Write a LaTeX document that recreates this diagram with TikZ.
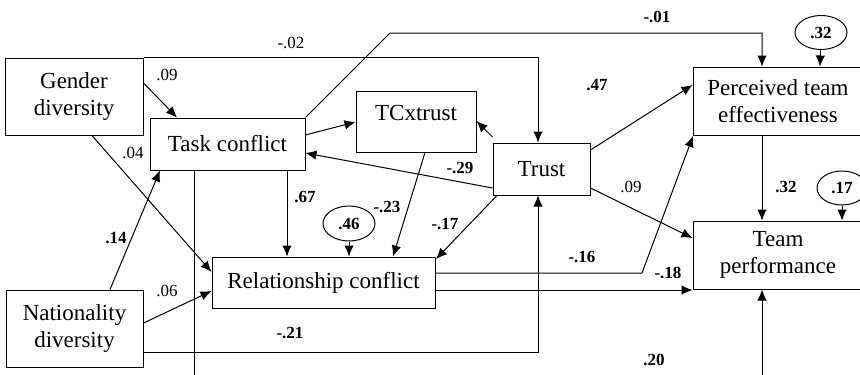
\documentclass[tikz,border=0pt]{standalone}
\usepackage{fontspec}
\setmainfont{Liberation Serif}
\usetikzlibrary{arrows.meta,shapes.geometric}
\tikzstyle{VarNode}=[rectangle, draw=black, line width=1pt, inner sep=0pt, align=center, font=\fontsize{23}{27}\selectfont]
\tikzstyle{ErrNode}=[ellipse, draw=black, line width=1pt, inner sep=0pt, font=\fontsize{17}{20}\selectfont\bfseries]
\tikzstyle{PathEdge}=[->, line width=1pt]
\tikzstyle{Coef}=[inner sep=0pt, font=\fontsize{17}{20}\selectfont]
\tikzstyle{BoldCoef}=[Coef, font=\fontsize{17}{20}\selectfont\bfseries]
\tikzset{>={Latex[length=11pt,width=9.5pt]}}

\begin{document}
\begin{tikzpicture}[x=1pt, y=-1pt]
\useasboundingbox (0,0) rectangle (860,375);
\clip (0,0) rectangle (860,375);

\node[VarNode, minimum width=138pt, minimum height=77pt](GD) at (74,96.5) {Gender\\diversity};
\node[VarNode, minimum width=155pt, minimum height=52pt](TC) at (227.5,144) {Task conflict};
\node[VarNode, minimum width=120pt, minimum height=61pt, text depth=17pt](TCx) at (416,121.5) {TCxtrust};
\node[VarNode, minimum width=97pt, minimum height=52pt](Trust) at (541.5,169) {Trust};
\node[VarNode, minimum width=223pt, minimum height=51pt](RC) at (323.5,282.5) {Relationship conflict};
\node[VarNode, minimum width=137pt, minimum height=77pt](Nat) at (74.5,328.5) {Nationality\\diversity};
\node[VarNode, minimum width=170pt, minimum height=68pt](PTE) at (778,101) {Perceived team\\effectiveness};
\node[VarNode, minimum width=170pt, minimum height=68pt](TP) at (778,255) {Team\\performance};

\node[ErrNode, minimum width=52pt, minimum height=34pt](E1) at (821,32.5) {.32};
\node[ErrNode, minimum width=50pt, minimum height=34pt](E2) at (842,188) {.17};
\node[ErrNode, minimum width=52pt, minimum height=35pt](E3) at (349,223.5) {.46};

% diversity paths
\draw[PathEdge](GD.east |- 0,83) -- (177,0 |- TC.north);
\draw[PathEdge](GD.south -| 92,0) -- (RC.west |- 0,272);
\draw[PathEdge](110,0 |- Nat.north) -- (160,0 |- TC.south);
\draw[PathEdge](Nat.east |- 0,323) -- (RC.west |- 0,291);
\draw[PathEdge](Nat.east |- 0,352) -| (538,0 |- Trust.south);
\draw[PathEdge](GD.north east) -| (538,0 |- Trust.north);

% conflict and trust
\draw[PathEdge](TC.north east) -- (390,33) -| (762,0 |- PTE.north);
\draw[PathEdge](TC.east |- 0,135) -- (TCx.west |- 0,122);
\draw[PathEdge](Trust.west |- 0,137) -- (TCx.east |- 0,121);
\draw[PathEdge](Trust.west |- 0,188) -- (TC.east |- 0,153);
\draw[PathEdge](287,0 |- TC.south) -- (287,0 |- RC.north);
\draw[PathEdge](425,0 |- TCx.south) -- (393,0 |- RC.north);
\draw[PathEdge](497,0 |- Trust.south) -- (436,259);
\draw[PathEdge](Trust.east |- 0,150) -- (PTE.west |- 0,85);
\draw[PathEdge](Trust.east |- 0,188) -- (TP.west |- 0,238);
\draw[PathEdge](RC.east |- 0,273) -- (642,273) -- (693,136);
\draw[PathEdge](RC.east |- 0,290) -- (TP.west |- 0,290);
\draw[PathEdge](762,0 |- PTE.south) -- (762,0 |- TP.north);
\draw[PathEdge](194,0 |- TC.south) -- (194,400) -| (762,0 |- TP.south);

% error terms
\draw[PathEdge](E1) -- (820,0 |- PTE.north);
\draw[PathEdge](E2) -- (842,0 |- TP.north);
\draw[PathEdge](E3) -- (349,0 |- RC.north);

% coefficients
\node[Coef](c1) at (167,75) {.09};
\node[Coef](c2) at (133,153) {.04};
\node[BoldCoef](c3) at (116,238) {.14};
\node[Coef](c4) at (167,291) {.06};
\node[BoldCoef](c5) at (290,333) {-.21};
\node[Coef](c6) at (291,43) {-.02};
\node[BoldCoef](c7) at (657,17) {-.01};
\node[BoldCoef](c8) at (460,168) {-.29};
\node[BoldCoef](c9) at (305,197) {.67};
\node[BoldCoef](c10) at (387,207) {-.23};
\node[BoldCoef](c11) at (445,224) {-.17};
\node[BoldCoef](c12) at (597,85) {.47};
\node[Coef](c13) at (631,187) {.09};
\node[BoldCoef](c14) at (582,257) {-.16};
\node[BoldCoef](c15) at (668,273) {-.18};
\node[BoldCoef](c16) at (786,187) {.32};
\node[BoldCoef](c17) at (654,360) {.20};
\end{tikzpicture}
\end{document}
